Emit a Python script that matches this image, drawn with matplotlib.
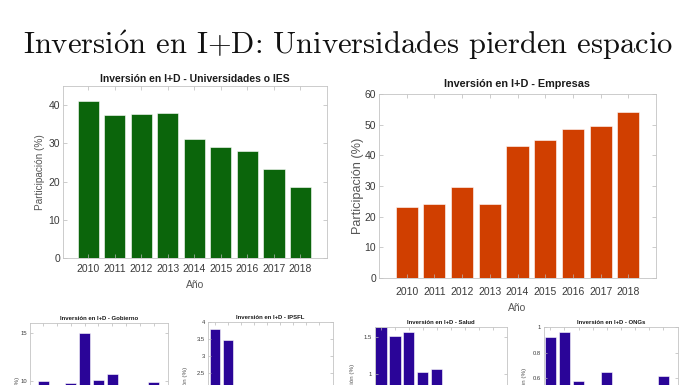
import matplotlib
matplotlib.use('Agg')
import matplotlib.pyplot as plt

W, H = 696, 385

years = [2010, 2011, 2012, 2013, 2014, 2015, 2016, 2017, 2018]
universidades = [41.0, 37.3, 37.7, 38.0, 31.2, 29.1, 27.9, 23.4, 18.6]
empresas = [23.2, 24.2, 29.8, 24.1, 43.1, 45.0, 48.6, 49.6, 54.0]
gobierno = [10.0, 8.6, 9.8, 15.0, 10.1, 10.7, 8.2, 9.5, 9.9]
ipsfl = [3.79, 3.46, 1.9, 1.7, 1.5, 1.4, 1.3, 1.1, 1.0]
salud = [1.63, 1.51, 1.57, 1.03, 1.07, 0.8, 0.7, 0.6, 0.5]
ongs = [0.92, 0.96, 0.58, 0.5, 0.65, 0.45, 0.4, 0.55, 0.62]

plt.rcParams['font.family'] = ['Liberation Sans', 'DejaVu Sans']
plt.rcParams['mathtext.fontset'] = 'cm'

fig = plt.figure(figsize=(W / 100, H / 100), dpi=100)


def box(left, right, top, bottom):
    # pixel box -> figure fraction
    return [left / W, (H - bottom) / H, (right - left) / W, (bottom - top) / H]


def panel(px, vals, color, title, ylim, yticks, xlim, fs, tfs, lfs,
          tpad, ylab_px, xlab_px=None, ticklen=3, ylfs=None, xpad=4):
    left, right, top, bottom = px
    ax = fig.add_axes(box(*px))
    ax.bar(years, vals, width=0.8, color=color, edgecolor='white', linewidth=0.4)
    ax.set_xlim(*xlim)
    ax.set_ylim(*ylim)
    ax.set_xticks(years)
    ax.set_xticklabels([str(y) for y in years])
    ax.set_yticks(yticks)
    ax.set_yticklabels([('%g' % t) for t in yticks])
    ax.tick_params(direction='in', top=True, right=True, length=ticklen,
                   width=0.5, color='#b8b8b8', labelsize=fs, labelcolor='#3a3a3a',
                   pad=2)
    ax.tick_params(axis='x', pad=xpad)
    for s in ax.spines.values():
        s.set_color('#c4c4c4')
        s.set_linewidth(0.6)
    ax.set_title(title, fontsize=tfs, fontweight='bold', color='#1a1a1a', pad=tpad)
    ax.set_ylabel('Participación (%)', fontsize=ylfs or lfs, color='#555555')
    # label anchor is the right edge of the rotated text
    ax.yaxis.set_label_coords((ylab_px - left) / (right - left), 0.5)
    if xlab_px is not None:
        ax.set_xlabel('Año', fontsize=lfs, color='#555555')
        ax.xaxis.set_label_coords(0.5, -(xlab_px - bottom) / (bottom - top))
    return ax


green = '#0b650b'
orange = '#d03f00'
purple = '#2a0598'

# top row
panel((63, 327, 86, 258), universidades, green,
      'Inversión en I+D - Universidades o IES', (0, 45), [0, 10, 20, 30, 40],
      (2009.05, 2019), 7.5, 7.5, 7.5, 3, 45, 280, ylfs=7.2)
panel((379, 656, 94, 278), empresas, orange,
      'Inversión en I+D - Empresas', (0, 60), [0, 10, 20, 30, 40, 50, 60],
      (2009, 2019), 7.5, 7.8, 7.5, 5, 364, 303, ylfs=9.2, xpad=6.5)

# bottom row (cut by the figure edge)
panel((30, 168, 323, 478), gobierno, purple,
      'Inversión en I+D - Gobierno', (0, 16), [0, 5, 10, 15],
      (2009.05, 2019.05), 4.2, 4.3, 4.5, 2, 20, ticklen=2)
panel((208, 333, 322, 459), ipsfl, purple,
      'Inversión en I+D - IPSFL', (0, 4), [0, 0.5, 1, 1.5, 2, 2.5, 3, 3.5, 4],
      (2009.45, 2019.05), 4.2, 4.3, 4.5, 2, 188, ticklen=2)
panel((375, 507, 327, 448), salud, purple,
      'Inversión en I+D - Salud', (0, 1.635), [0, 0.5, 1, 1.5],
      (2009.57, 2019.04), 4.2, 4.3, 4.5, 2, 355, ticklen=2)
panel((544, 678, 327, 455), ongs, purple,
      'Inversión en I+D - ONGs', (0, 1), [0, 0.2, 0.4, 0.6, 0.8, 1],
      (2009.55, 2019.04), 4.2, 4.3, 4.5, 2, 527, ticklen=2)

fig.text(0.5, (H - 45) / H,
         r'Inversi$\mathrm{\acute{o}}$n en I+D: Universidades pierden espacio',
         ha='center', va='center', fontsize=22, color='#111111',
         family='cmr10')

fig.savefig('out.png', dpi=100, facecolor='white')
